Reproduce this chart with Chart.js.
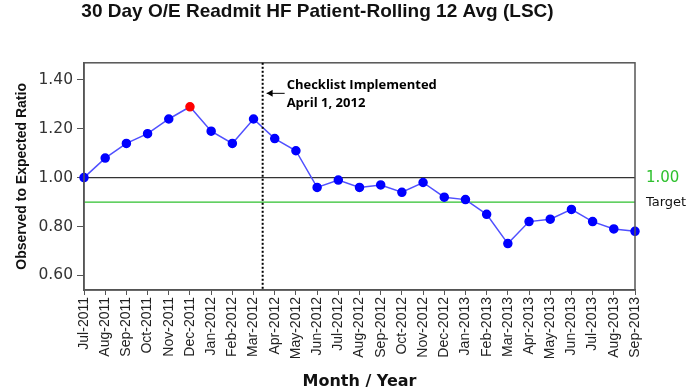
<!DOCTYPE html>
<html>
<head>
<meta charset="utf-8">
<script src="https://cdn.jsdelivr.net/npm/chart.js@4.4.0/dist/chart.umd.min.js"></script>
<style>
	body { margin: 0; background: #fff; }
	#wrap { width: 700px; height: 391px; position: relative; }
</style>
</head>
<body>
<div id="wrap"><canvas id="readmit-chartcanvas"></canvas></div>
<script>
"use strict";

// months along the x axis
var months = ["Jul-2011", "Aug-2011", "Sep-2011", "Oct-2011", "Nov-2011", "Dec-2011",
	"Jan-2012", "Feb-2012", "Mar-2012", "Apr-2012", "May-2012", "Jun-2012",
	"Jul-2012", "Aug-2012", "Sep-2012", "Oct-2012", "Nov-2012", "Dec-2012",
	"Jan-2013", "Feb-2013", "Mar-2013", "Apr-2013", "May-2013", "Jun-2013",
	"Jul-2013", "Aug-2013", "Sep-2013"];
// observed / expected ratio, rolling 12 month avg
var oeRatio = [1.00, 1.08, 1.14, 1.18, 1.24, 1.29,
	1.19, 1.14, 1.24, 1.16, 1.11, 0.96,
	0.99, 0.96, 0.97, 0.94, 0.98, 0.92,
	0.91, 0.85, 0.73, 0.82, 0.83, 0.87,
	0.82, 0.79, 0.78];
var yTicks = [0.60, 0.80, 1.00, 1.20, 1.40];
var baseline = 1.00;
var target = 0.90;
// checklist went in between Mar-2012 and Apr-2012
var checklistAt = 8.43;
var checklistLabel = ["Checklist Implemented", "April 1, 2012"];
var highPoint = 5;

// colour the peak red
var pointColors = [];
for (var i = 0; i < oeRatio.length; i++) {
	pointColors.push(i === highPoint ? "#ff0000" : "#0000ff");
}

// reference lines, frame and the checklist note
var annotations = {
	id : "annotations",
	beforeDatasetsDraw : function(chart) {
		var ctx = chart.ctx, area = chart.chartArea, y = chart.scales.y;
		ctx.save();
		ctx.lineWidth = 1.2;
		ctx.strokeStyle = "#333";
		ctx.beginPath();
		ctx.moveTo(area.left, y.getPixelForValue(baseline));
		ctx.lineTo(area.right, y.getPixelForValue(baseline));
		ctx.stroke();
		ctx.strokeStyle = "#2ec02e";
		ctx.beginPath();
		ctx.moveTo(area.left, y.getPixelForValue(target));
		ctx.lineTo(area.right, y.getPixelForValue(target));
		ctx.stroke();
		ctx.restore();
	},
	afterDraw : function(chart) {
		var ctx = chart.ctx, area = chart.chartArea;
		var x = chart.scales.x, y = chart.scales.y;
		ctx.save();

		// frame
		ctx.strokeStyle = "#555";
		ctx.lineWidth = 1.5;
		ctx.strokeRect(area.left, area.top, area.right - area.left, area.bottom - area.top);

		// dotted checklist line
		var lx = x.getPixelForValue(8) + (x.getPixelForValue(9) - x.getPixelForValue(8)) * (checklistAt - 8);
		ctx.strokeStyle = "#000";
		ctx.lineWidth = 2;
		ctx.setLineDash([2, 2]);
		ctx.beginPath();
		ctx.moveTo(lx, area.top);
		ctx.lineTo(lx, area.bottom);
		ctx.stroke();
		ctx.setLineDash([]);

		// arrow
		var ay = y.getPixelForValue(1.345);
		ctx.lineWidth = 1;
		ctx.beginPath();
		ctx.moveTo(lx + 4, ay);
		ctx.lineTo(lx + 22, ay);
		ctx.stroke();
		ctx.fillStyle = "#000";
		ctx.beginPath();
		ctx.moveTo(lx + 4, ay);
		ctx.lineTo(lx + 10, ay - 3.5);
		ctx.lineTo(lx + 10, ay + 3.5);
		ctx.closePath();
		ctx.fill();

		// note text
		ctx.font = "bold 13px 'Open Sans', sans-serif";
		ctx.textAlign = "left";
		ctx.textBaseline = "middle";
		ctx.fillText(checklistLabel[0], lx + 24, ay - 8);
		ctx.fillText(checklistLabel[1], lx + 24, ay + 10);

		// right side labels
		ctx.font = "15px 'DejaVu Sans', sans-serif";
		ctx.fillStyle = "#2ec02e";
		ctx.fillText(baseline.toFixed(2), area.right + 11, y.getPixelForValue(baseline));
		ctx.font = "13px 'DejaVu Sans', sans-serif";
		ctx.fillStyle = "#111";
		ctx.fillText("Target", area.right + 11, y.getPixelForValue(target) + 1);
		ctx.restore();
	}
};

var chartData = {
	labels : months,
	datasets : [
		{
			label : "O/E Ratio",
			data : oeRatio,
			borderColor : "#5050ff",
			borderWidth : 1.5,
			backgroundColor : pointColors,
			pointBackgroundColor : pointColors,
			pointBorderColor : pointColors,
			pointRadius : 4,
			fill : false,
			tension : 0
		}
	]
};

var chartOptions = {
	responsive : true,
	maintainAspectRatio : false,
	animation : false,
	layout : {
		padding : { top : 0, right : 65, left : 0, bottom : 0 }
	},
	plugins : {
		legend : { display : false },
		tooltip : { enabled : false },
		title : {
			display : true,
			text : "30 Day O/E Readmit HF Patient-Rolling 12 Avg (LSC)",
			color : "#111",
			font : { family : "'Liberation Sans', Arial, sans-serif", size : 19, weight : "bold" },
			padding : { top : 0, bottom : 40 }
		}
	},
	scales : {
		x : {
			type : "category",
			offset : false,
			afterFit : function(scale) { scale.height = 101; },
			grid : {
				drawOnChartArea : false,
				drawTicks : true,
				tickLength : 5,
				color : "#555"
			},
			border : { color : "#555", width : 1.5 },
			ticks : {
				autoSkip : false,
				minRotation : 90,
				maxRotation : 90,
				padding : 2,
				color : "#222",
				font : { family : "'Liberation Sans', Arial, sans-serif", size : 14 }
			},
			title : {
				display : true,
				text : "Month / Year",
				color : "#111",
				font : { family : "'DejaVu Sans', sans-serif", size : 16, weight : "bold" },
				padding : { top : 0, bottom : 0 }
			}
		},
		y : {
			min : 0.54,
			max : 1.47,
			afterFit : function(scale) { scale.width = 84; },
			afterBuildTicks : function(scale) {
				scale.ticks = yTicks.map(function(v) { return { value : v }; });
			},
			grid : {
				drawOnChartArea : false,
				drawTicks : true,
				tickLength : 7,
				color : "#555"
			},
			border : { color : "#555", width : 1.5 },
			ticks : {
				padding : 4,
				color : "#333",
				font : { family : "'DejaVu Sans', sans-serif", size : 15.5 },
				callback : function(v) { return Number(v).toFixed(2); }
			},
			title : {
				display : true,
				text : "Observed to Expected Ratio",
				color : "#111",
				font : { family : "'Liberation Sans Narrow', 'Liberation Sans', sans-serif", size : 14, weight : "bold" },
				padding : { top : 14, bottom : 0 }
			}
		}
	}
};

var readmitChart = new Chart(document.getElementById("readmit-chartcanvas"), {
	type : "line",
	data : chartData,
	options : chartOptions,
	plugins : [annotations]
});
</script>
</body>
</html>
